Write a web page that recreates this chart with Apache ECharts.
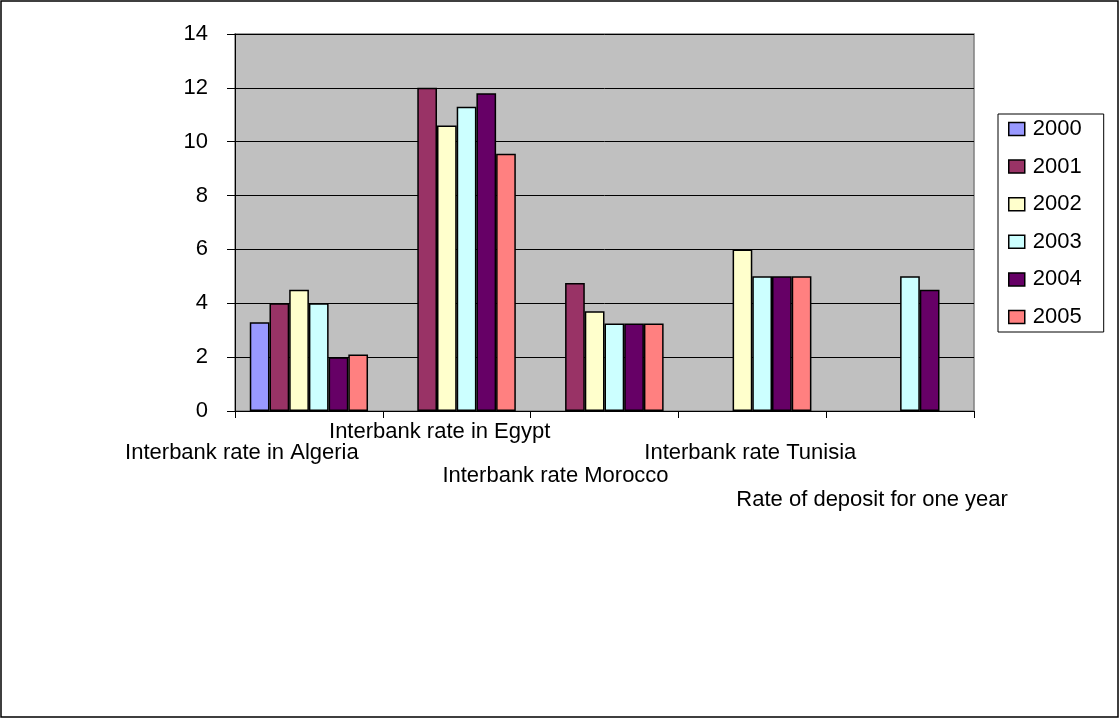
<!DOCTYPE html>
<html>
<head>
<meta charset="utf-8">
<script src="https://cdn.jsdelivr.net/npm/echarts@6/dist/echarts.min.js"></script>
<style>
  html, body { margin: 0; padding: 0; background: #fff; }
  #chart { width: 1120px; height: 719px; }
</style>
</head>
<body>
<div id="chart"></div>
<script>
// Rates by indicator (percent), one array per year
const categories = [
  'Interbank rate in Algeria',
  'Interbank rate in Egypt',
  'Interbank rate Morocco',
  'Interbank rate Tunisia',
  'Rate of deposit for one year'
];
const years = ['2000', '2001', '2002', '2003', '2004', '2005'];
const rate2000 = [3.3, null, null, null, null];
const rate2001 = [4.0, 12.0, 4.75, null, null];
const rate2002 = [4.5, 10.6, 3.7, 6.0, null];
const rate2003 = [4.0, 11.3, 3.25, 5.0, 5.0];
const rate2004 = [2.0, 11.8, 3.25, 5.0, 4.5];
const rate2005 = [2.1, 9.55, 3.25, 5.0, null];
const yMin = 0, yMax = 14, yStep = 2;

const seriesValues = [rate2000, rate2001, rate2002, rate2003, rate2004, rate2005];
const seriesColors = ['#9999FF', '#993366', '#FFFFCC', '#CCFFFF', '#660066', '#FF8080'];

// Staggered placement of the category captions: [down, shift] in px
const captionPlacement = [[21, -67], [0, -17], [44, -49], [21, -2], [68, -28]];

const FONT = '"Liberation Sans", Arial, sans-serif';
const FS = 22;

// the label block is centred on its own height, so top padding moves it by half
const rich = {};
captionPlacement.forEach(([down, shift], i) => {
  rich['c' + i] = {
    fontFamily: FONT, fontSize: FS, color: '#000', lineHeight: 22,
    padding: [down * 2, shift < 0 ? -2 * shift : 0, 0, shift > 0 ? 2 * shift : 0]
  };
});

const chart = echarts.init(document.getElementById('chart'), null, { renderer: 'canvas' });
chart.setOption({
  animation: false,
  backgroundColor: '#fff',
  grid: {
    left: 235, right: 146, top: 34, bottom: 308,
    show: true, backgroundColor: '#C0C0C0', borderColor: '#808080', borderWidth: 1.5
  },
  legend: {
    orient: 'vertical',
    left: 998, top: 114,
    data: years,
    backgroundColor: '#fff',
    borderColor: '#000', borderWidth: 1,
    padding: [4, 22, 4, 10],
    itemWidth: 16, itemHeight: 13, itemGap: 15.6,
    icon: 'rect',
    itemStyle: { borderColor: '#000', borderWidth: 1.5 },
    textStyle: { fontFamily: FONT, fontSize: FS, color: '#000', lineHeight: 22, padding: [0, 0, 0, 3] }
  },
  xAxis: {
    type: 'category',
    data: categories,
    boundaryGap: true,
    axisLine: { show: true, lineStyle: { color: '#000', width: 1 } },
    axisTick: { show: true, length: 7, lineStyle: { color: '#000' } },
    axisLabel: {
      interval: 0, hideOverlap: false, margin: 10,
      formatter: (v, i) => '{c' + i + '|' + v + '}',
      rich: rich
    },
    splitLine: { show: false }
  },
  yAxis: {
    type: 'value',
    min: yMin, max: yMax, interval: yStep,
    axisLine: { show: true, lineStyle: { color: '#000', width: 1 } },
    axisTick: { show: true, length: 8, lineStyle: { color: '#000' } },
    axisLabel: { fontFamily: FONT, fontSize: FS, color: '#000', margin: 27 },
    splitLine: { show: true, lineStyle: { color: '#000', width: 1 } }
  },
  series: years.map((y, k) => ({
    name: y,
    type: 'bar',
    data: seriesValues[k],
    barGap: '0%',
    barCategoryGap: '20%',
    itemStyle: { color: seriesColors[k], borderColor: '#000', borderWidth: 1.5 }
  })),
  graphic: [{
    type: 'rect',
    shape: { x: 1, y: 1, width: 1117, height: 716 },
    style: { fill: 'none', stroke: '#000', lineWidth: 1.5 },
    silent: true
  }]
});
</script>
</body>
</html>
